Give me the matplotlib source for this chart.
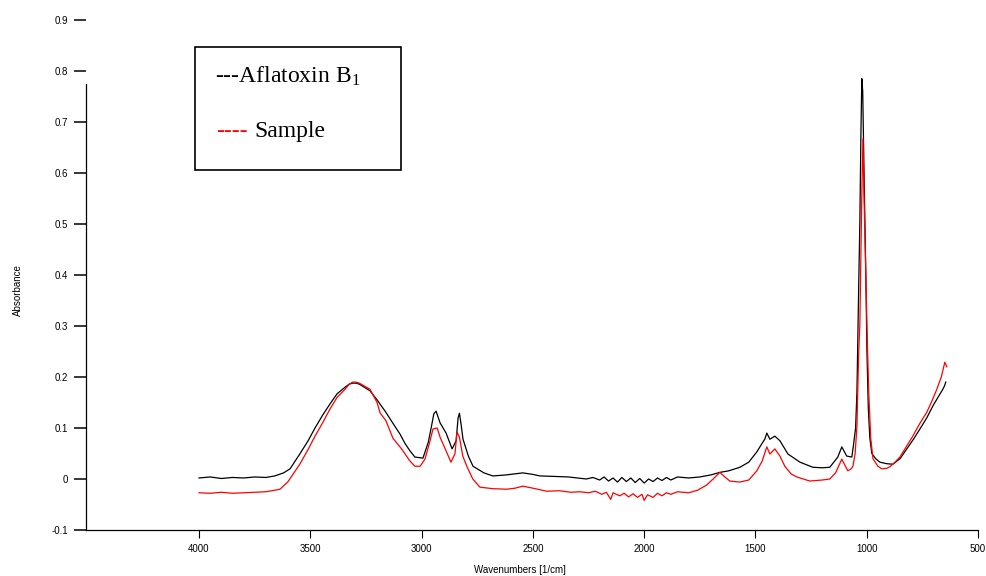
import matplotlib.pyplot as plt
from matplotlib.patches import Rectangle

# Wavenumber / absorbance points
wn_afla = [4000, 3950, 3900, 3850, 3800, 3750, 3700, 3660, 3620, 3591, 3546, 3510, 3479,
           3445, 3412, 3380, 3344, 3325, 3310, 3295, 3280, 3232, 3200, 3164, 3130, 3097, 3075, 3052,
           3030, 2994, 2970, 2955, 2945, 2935, 2917, 2890, 2863, 2845, 2836, 2830, 2822, 2814, 2790, 2769,
           2720, 2680, 2620, 2545, 2500, 2468, 2400, 2340, 2300, 2260, 2230, 2200, 2180,
           2160, 2140, 2120, 2100, 2080, 2060, 2040, 2020, 2000, 1980, 1960, 1940, 1920,
           1900, 1880, 1850, 1800, 1750, 1700, 1660, 1620, 1570, 1530, 1494, 1470, 1458,
           1449, 1435, 1413, 1390, 1354, 1300, 1242, 1200, 1166, 1130, 1112, 1090, 1067,
           1060, 1050, 1044, 1036, 1031, 1026, 1022, 1018, 1012, 1004, 999, 993, 986,
           977, 960, 941, 910, 883, 850, 820, 790, 761, 730, 703, 680, 658, 650, 645]
abs_afla = [0.002, 0.004, 0.001, 0.003, 0.002, 0.004, 0.003, 0.006, 0.012, 0.02, 0.05, 0.075, 0.1,
            0.125, 0.147, 0.167, 0.18, 0.186, 0.188, 0.188, 0.186, 0.173, 0.155, 0.133, 0.11, 0.088, 0.07, 0.055,
            0.043, 0.041, 0.072, 0.105, 0.128, 0.133, 0.11, 0.09, 0.059, 0.075, 0.12, 0.129, 0.105, 0.078, 0.045, 0.025,
            0.012, 0.006, 0.008, 0.012, 0.009, 0.006, 0.005, 0.004, 0.002, 0.0, 0.003, -0.002, 0.004,
            -0.004, 0.002, -0.006, 0.003, -0.005, 0.002, -0.007, 0.001, -0.008, 0.0, -0.005, 0.002, -0.003,
            0.003, -0.002, 0.004, 0.002, 0.004, 0.008, 0.013, 0.016, 0.023, 0.033, 0.053, 0.07, 0.078,
            0.09, 0.078, 0.084, 0.075, 0.049, 0.033, 0.023, 0.022, 0.023, 0.043, 0.063, 0.045, 0.043,
            0.065, 0.1, 0.17, 0.38, 0.5, 0.68, 0.785, 0.76, 0.6, 0.4, 0.25, 0.14, 0.08,
            0.05, 0.04, 0.033, 0.03, 0.029, 0.04, 0.059, 0.078, 0.098, 0.12, 0.143, 0.16, 0.176, 0.183, 0.19]

wn_sample = [4000, 3950, 3900, 3850, 3800, 3750, 3700, 3660, 3636, 3600, 3546, 3510, 3479,
             3445, 3412, 3380, 3344, 3325, 3310, 3295, 3280, 3232, 3200, 3187, 3160, 3129, 3090, 3052,
             3030, 3007, 2985, 2962, 2949, 2930, 2917, 2890, 2868, 2850, 2841, 2830, 2815,
             2796, 2770, 2738, 2680, 2617, 2580, 2545, 2500, 2437, 2380, 2330, 2289, 2250,
             2220, 2190, 2170, 2150, 2140, 2110, 2090, 2070, 2050, 2030, 2010, 2000, 1985,
             1960, 1940, 1920, 1900, 1880, 1850, 1800, 1760, 1720, 1690, 1660, 1640, 1615,
             1570, 1530, 1494, 1470, 1449, 1435, 1413, 1390, 1368, 1340, 1314, 1256, 1200,
             1166, 1140, 1112, 1085, 1070, 1062, 1052, 1044, 1036, 1031, 1022, 1017, 1012,
             1004, 999, 991, 982, 972, 950, 932, 910, 896, 875, 851, 820, 793, 760, 730,
             705, 685, 665, 649, 640]
abs_sample = [-0.027, -0.028, -0.026, -0.028, -0.027, -0.026, -0.025, -0.022, -0.02, -0.005, 0.03, 0.058, 0.084,
              0.11, 0.137, 0.16, 0.176, 0.186, 0.19, 0.19, 0.188, 0.176, 0.15, 0.13, 0.114, 0.08, 0.059, 0.035,
              0.025, 0.025, 0.039, 0.075, 0.098, 0.1, 0.082, 0.055, 0.033, 0.05, 0.092, 0.082, 0.045,
              0.024, 0.0, -0.016, -0.019, -0.02, -0.018, -0.014, -0.018, -0.024, -0.023, -0.026, -0.025, -0.027,
              -0.024, -0.03, -0.026, -0.04, -0.027, -0.033, -0.028, -0.035, -0.029, -0.036, -0.03, -0.042, -0.031,
              -0.036, -0.028, -0.033, -0.027, -0.03, -0.025, -0.027, -0.022, -0.012, 0.0, 0.013, 0.005, -0.004,
              -0.006, -0.002, 0.016, 0.035, 0.063, 0.049, 0.059, 0.045, 0.025, 0.01, 0.004, -0.004, -0.002,
              0.0, 0.012, 0.039, 0.016, 0.02, 0.025, 0.05, 0.104, 0.25, 0.3, 0.56, 0.667, 0.55,
              0.4, 0.3, 0.17, 0.08, 0.04, 0.025, 0.02, 0.021, 0.024, 0.032, 0.043, 0.065, 0.084, 0.11, 0.131,
              0.155, 0.176, 0.2, 0.229, 0.22]

yticks = [-0.1, 0, 0.1, 0.2, 0.3, 0.4, 0.5, 0.6, 0.7, 0.8, 0.9]
ytick_labels = ['-0.1', '0', '0.1', '0.2', '0.3', '0.4', '0.5', '0.6', '0.7', '0.8', '0.9']
xticks = [4000, 3500, 3000, 2500, 2000, 1500, 1000, 500]

plt.rcParams['font.family'] = ['Liberation Sans', 'DejaVu Sans']
plt.rcParams['mathtext.default'] = 'regular'

fig = plt.figure(figsize=(9.87, 5.76), dpi=100)
ax = fig.add_axes([86 / 987, 46 / 576, (978 - 86) / 987, (530 - 20) / 576])

ax.plot(wn_afla, abs_afla, color='black', lw=0.9)
ax.plot(wn_sample, abs_sample, color='red', lw=0.9)

ax.set_xlim(4508, 500)
ax.set_ylim(-0.1, 0.9)
ax.set_yticks(yticks)
ax.set_yticklabels(ytick_labels)
ax.set_xticks(xticks)
ax.tick_params(axis='y', length=9, width=1.1, pad=4, labelsize=7)
ax.tick_params(axis='x', length=6, width=0.8, pad=4, labelsize=7)

for s in ['top', 'right']:
    ax.spines[s].set_visible(False)
ax.spines['left'].set_bounds(-0.1, 0.775)
ax.spines['left'].set_linewidth(0.9)
ax.spines['bottom'].set_linewidth(0.9)

fig.text(18 / 987, 1 - 290 / 576, 'Absorbance', rotation=90, ha='center', va='center', fontsize=7)
fig.text(520 / 987, 1 - 570 / 576, 'Wavenumbers [1/cm]', ha='center', va='center', fontsize=7)

# legend box drawn by hand like the original
fig.patches.append(Rectangle((195 / 987, 1 - 170 / 576), 206 / 987, 123 / 576,
                             transform=fig.transFigure, fill=False, edgecolor='black', lw=1.2))
legend_font = ['Liberation Serif', 'DejaVu Serif']
fig.text(215 / 987, 1 - 76 / 576, '---Aflatoxin B$_1$', ha='left', va='center',
         fontsize=17, family=legend_font)
fig.text(216 / 987, 1 - 131 / 576, '----', color='red', ha='left', va='center',
         fontsize=17, family=legend_font)
fig.text(254 / 987, 1 - 131 / 576, 'Sample', ha='left', va='center',
         fontsize=17, family=legend_font)

fig.savefig('out.png', dpi=100)
